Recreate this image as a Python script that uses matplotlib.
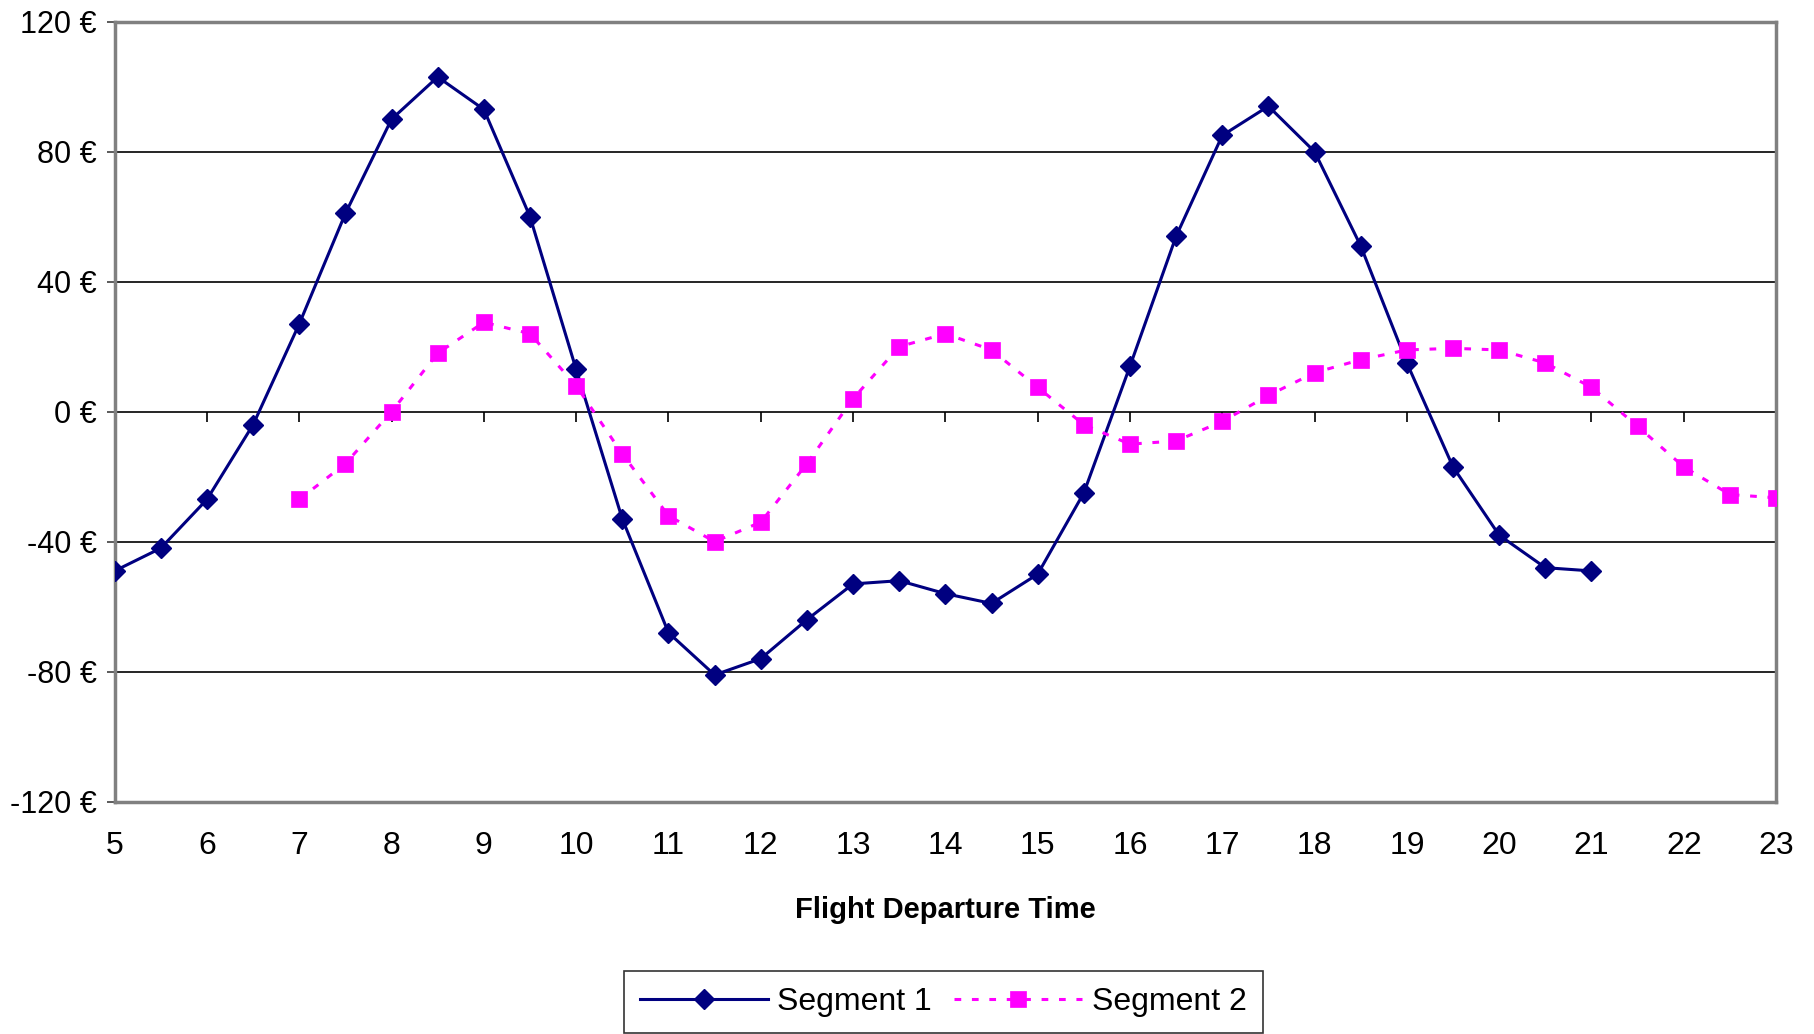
import matplotlib.pyplot as plt
from matplotlib.ticker import FuncFormatter

plt.rcParams['font.family'] = ['Liberation Sans', 'DejaVu Sans']

# half-hour departure slots
seg1_x = [5, 5.5, 6, 6.5, 7, 7.5, 8, 8.5, 9, 9.5, 10, 10.5, 11, 11.5, 12, 12.5, 13,
          13.5, 14, 14.5, 15, 15.5, 16, 16.5, 17, 17.5, 18, 18.5, 19, 19.5, 20, 20.5, 21]
seg1_y = [-49, -42, -27, -4, 27, 61, 90, 103, 93, 60, 13, -33, -68, -81, -76, -64, -53,
          -52, -56, -59, -50, -25, 14, 54, 85, 94, 80, 51, 15, -17, -38, -48, -49]

seg2_x = [7, 7.5, 8, 8.5, 9, 9.5, 10, 10.5, 11, 11.5, 12, 12.5, 13, 13.5, 14, 14.5, 15,
          15.5, 16, 16.5, 17, 17.5, 18, 18.5, 19, 19.5, 20, 20.5, 21, 21.5, 22, 22.5, 23]
seg2_y = [-27, -16, 0, 18, 27.5, 24, 8, -13, -32, -40, -34, -16, 4, 20, 24, 19, 7.5,
          -4, -10, -9, -3, 5, 12, 16, 19, 19.5, 19, 15, 7.5, -4.5, -17, -25.5, -26.5]

x_ticks = list(range(5, 24))
y_ticks = [-120, -80, -40, 0, 40, 80, 120]

fig = plt.figure(figsize=(18.14, 10.34), dpi=100)
ax = fig.add_axes([0.0632, 0.2247, 0.9159, 0.7543])

ax.plot(seg1_x, seg1_y, color='#000080', lw=2.2, marker='D', ms=10,
        mec='#000080', label='Segment 1', zorder=3)
ax.plot(seg2_x, seg2_y, color='#FF00FF', lw=2.2, linestyle=(0, (2.2, 3.5)), marker='s',
        ms=12, mec='#FF00FF', mew=0.5, label='Segment 2', zorder=3)

ax.set_xlim(5, 23)
ax.set_ylim(-120, 120)
ax.set_yticks(y_ticks)
ax.yaxis.set_major_formatter(FuncFormatter(lambda v, p: f'{v:.0f} €'))
ax.set_xticks(x_ticks)
ax.grid(axis='y', color='black', lw=1.2)
ax.set_axisbelow(True)

for s in ax.spines.values():
    s.set_color('#808080')
    s.set_linewidth(2.5)

ax.tick_params(axis='y', direction='out', length=6, width=1.2, color='#404040',
               labelsize=22, pad=7)
ax.tick_params(axis='x', length=0, labelsize=23, pad=21)

# category axis crosses at zero with downward ticks
zero_axis = ax.secondary_xaxis(0.5)
zero_axis.set_xticks(x_ticks)
zero_axis.tick_params(direction='in', length=7, width=1.2, color='black', labeltop=False,
                      labelbottom=False)
zero_axis.spines['top'].set_visible(False)
zero_axis.spines['bottom'].set_visible(False)

ax.set_xlabel('Flight Departure Time', fontsize=21, fontweight='bold', labelpad=25)

leg = fig.legend(loc='upper center', bbox_to_anchor=(0.52, 0.0605), ncol=2, fontsize=23,
                 handlelength=4.0, handletextpad=0.3, columnspacing=0.7,
                 fancybox=False, edgecolor='black', borderpad=0.5, borderaxespad=0)
leg.get_frame().set_linewidth(1.2)

fig.savefig('out.png', dpi=100)
